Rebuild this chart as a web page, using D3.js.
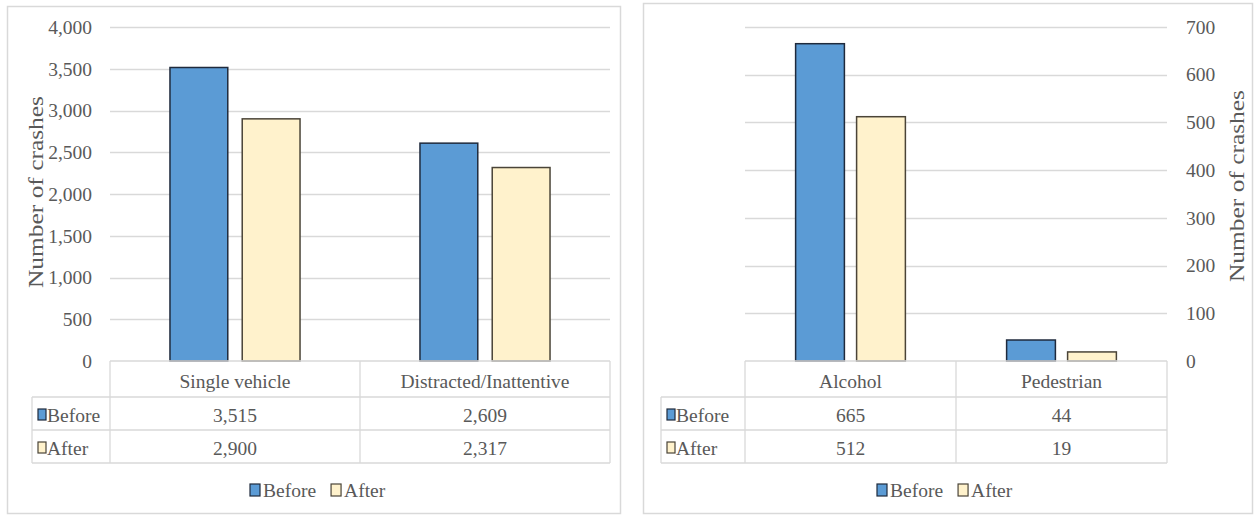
<!DOCTYPE html>
<html>
<head>
<meta charset="utf-8">
<script src="https://cdn.jsdelivr.net/npm/d3@7/dist/d3.min.js"></script>
<style>
  html, body { margin: 0; padding: 0; background: #ffffff; }
  svg { display: block; }
  text { font-family: "Liberation Serif", "Times New Roman", serif; fill: #595959; }
</style>
</head>
<body>
<svg id="chart" width="1255" height="515"></svg>
<script>
// Crash counts before and after, split across two panels
const seriesNames = ["Before", "After"];

const leftCategories = ["Single vehicle", "Distracted/Inattentive"];
const leftBefore = [3515, 2609];
const leftAfter = [2900, 2317];
const leftTicks = [0, 500, 1000, 1500, 2000, 2500, 3000, 3500, 4000];

const rightCategories = ["Alcohol", "Pedestrian"];
const rightBefore = [665, 44];
const rightAfter = [512, 19];
const rightTicks = [0, 100, 200, 300, 400, 500, 600, 700];

const axisTitle = "Number of crashes";

const fills = { Before: "#5b9bd5", After: "#fff2cc" };
const strokes = { Before: "#1f2a3c", After: "#4a4438" };
const gridColor = "#d9d9d9";
const fmt = d3.format(",");

const svg = d3.select("#chart");

function drawPanel(opt) {
  const g = svg.append("g");

  // panel frame
  g.append("rect")
    .attr("x", opt.frame[0] + 0.5).attr("y", opt.frame[1] + 0.5)
    .attr("width", opt.frame[2] - opt.frame[0]).attr("height", opt.frame[3] - opt.frame[1])
    .attr("fill", "#fff").attr("stroke", gridColor).attr("stroke-width", 1.5);

  const y = d3.scaleLinear().domain([0, opt.max]).range([opt.baseY, opt.topY]);
  const x0 = d3.scaleBand().domain(opt.categories).range([opt.plotX0, opt.plotX1]);
  const x1 = d3.scaleBand().domain(seriesNames).range([0, x0.bandwidth()])
    .paddingInner(0.2).paddingOuter(0.83);

  // gridlines
  g.append("g").selectAll("line")
    .data(opt.ticks.filter(t => t > 0))
    .join("line")
    .attr("x1", opt.plotX0).attr("x2", opt.plotX1)
    .attr("y1", d => Math.round(y(d)) + 0.5).attr("y2", d => Math.round(y(d)) + 0.5)
    .attr("stroke", gridColor).attr("stroke-width", 1.5);

  // value axis
  const axis = (opt.side === "left" ? d3.axisLeft(y) : d3.axisRight(y))
    .tickValues(opt.ticks).tickFormat(fmt).tickSize(0).tickPadding(8);
  const ag = g.append("g")
    .attr("transform", `translate(${opt.axisX},0)`)
    .call(axis);
  ag.select(".domain").remove();
  ag.selectAll("text")
    .attr("font-family", "Liberation Serif, Times New Roman, serif")
    .attr("font-size", 19.5).attr("fill", "#595959");

  // axis title
  g.append("text")
    .attr("transform", `translate(${opt.titleX},${opt.titleY}) rotate(-90)`)
    .attr("text-anchor", "middle").attr("dominant-baseline", "central")
    .attr("font-size", 22)
    .attr("textLength", 192).attr("lengthAdjust", "spacingAndGlyphs")
    .text(axisTitle);

  // bars
  const rows = opt.categories.map((c, i) => ({
    category: c,
    values: [ { key: "Before", value: opt.before[i] }, { key: "After", value: opt.after[i] } ]
  }));
  g.append("g").selectAll("g")
    .data(rows).join("g")
    .attr("transform", d => `translate(${x0(d.category)},0)`)
    .selectAll("rect")
    .data(d => d.values).join("rect")
    .attr("x", d => x1(d.key))
    .attr("y", d => y(d.value))
    .attr("width", x1.bandwidth())
    .attr("height", d => y(0) - y(d.value))
    .attr("fill", d => fills[d.key])
    .attr("stroke", d => strokes[d.key]).attr("stroke-width", 1.5);

  // data table
  const t = g.append("g");
  const rowTop = opt.baseY, rowH0 = 36, rowH = 33;
  const r1 = rowTop + rowH0, r2 = r1 + rowH, r3 = r2 + rowH;
  const lineAttrs = sel => sel.attr("stroke", gridColor).attr("stroke-width", 1.3).attr("fill", "none");

  t.append("line").attr("x1", opt.plotX0).attr("x2", opt.plotX1).attr("y1", rowTop).attr("y2", rowTop).call(lineAttrs);
  [r1, r2, r3].forEach(yy =>
    t.append("line").attr("x1", opt.keyX).attr("x2", opt.plotX1).attr("y1", yy).attr("y2", yy).call(lineAttrs));
  t.append("line").attr("x1", opt.keyX).attr("x2", opt.keyX).attr("y1", r1).attr("y2", r3).call(lineAttrs);
  t.append("line").attr("x1", opt.plotX1).attr("x2", opt.plotX1).attr("y1", rowTop).attr("y2", r3).call(lineAttrs);
  opt.categories.forEach(c =>
    t.append("line").attr("x1", x0(c)).attr("x2", x0(c)).attr("y1", rowTop).attr("y2", r3).call(lineAttrs));

  const textSize = 19.5;
  t.selectAll("text.cat").data(opt.categories).join("text")
    .attr("class", "cat")
    .attr("x", d => x0(d) + x0.bandwidth() / 2).attr("y", rowTop + 27)
    .attr("text-anchor", "middle").attr("font-size", textSize).text(d => d);

  const tableRows = [
    { key: "Before", vals: opt.before, base: r1 + 25 },
    { key: "After", vals: opt.after, base: r2 + 25 }
  ];
  tableRows.forEach(row => {
    t.append("rect")
      .attr("x", opt.keyX + 6).attr("y", row.base - 13).attr("width", 8).attr("height", 11)
      .attr("fill", fills[row.key]).attr("stroke", strokes[row.key]).attr("stroke-width", 1.2);
    t.append("text").attr("x", opt.keyX + 15).attr("y", row.base)
      .attr("font-size", textSize).text(row.key);
    t.selectAll(null).data(opt.categories).join("text")
      .attr("x", (d) => x0(d) + x0.bandwidth() / 2).attr("y", row.base)
      .attr("text-anchor", "middle").attr("font-size", textSize)
      .text((d, i) => fmt(row.vals[i]));
  });

  // legend
  const lg = g.append("g").attr("transform", `translate(${opt.legendX},${opt.legendY})`);
  let cx = 0;
  seriesNames.forEach(name => {
    lg.append("rect").attr("x", cx).attr("y", -13).attr("width", 10).attr("height", 12)
      .attr("fill", fills[name]).attr("stroke", strokes[name]).attr("stroke-width", 1.2);
    const tx = lg.append("text").attr("x", cx + 13).attr("y", 0)
      .attr("font-size", textSize).text(name);
    cx += 13 + tx.node().getComputedTextLength() + 15;
  });
}

drawPanel({
  frame: [7, 6, 620, 513],
  categories: leftCategories, before: leftBefore, after: leftAfter,
  ticks: leftTicks, max: 4000,
  baseY: 361, topY: 27,
  plotX0: 110, plotX1: 610,
  keyX: 32,
  side: "left", axisX: 100,
  titleX: 35, titleY: 192,
  legendX: 250, legendY: 497
});

drawPanel({
  frame: [643, 3, 1252, 513],
  categories: rightCategories, before: rightBefore, after: rightAfter,
  ticks: rightTicks, max: 700,
  baseY: 361, topY: 27,
  plotX0: 745, plotX1: 1167,
  keyX: 661,
  side: "right", axisX: 1178,
  titleX: 1236, titleY: 186,
  legendX: 877, legendY: 497
});
</script>
</body>
</html>
